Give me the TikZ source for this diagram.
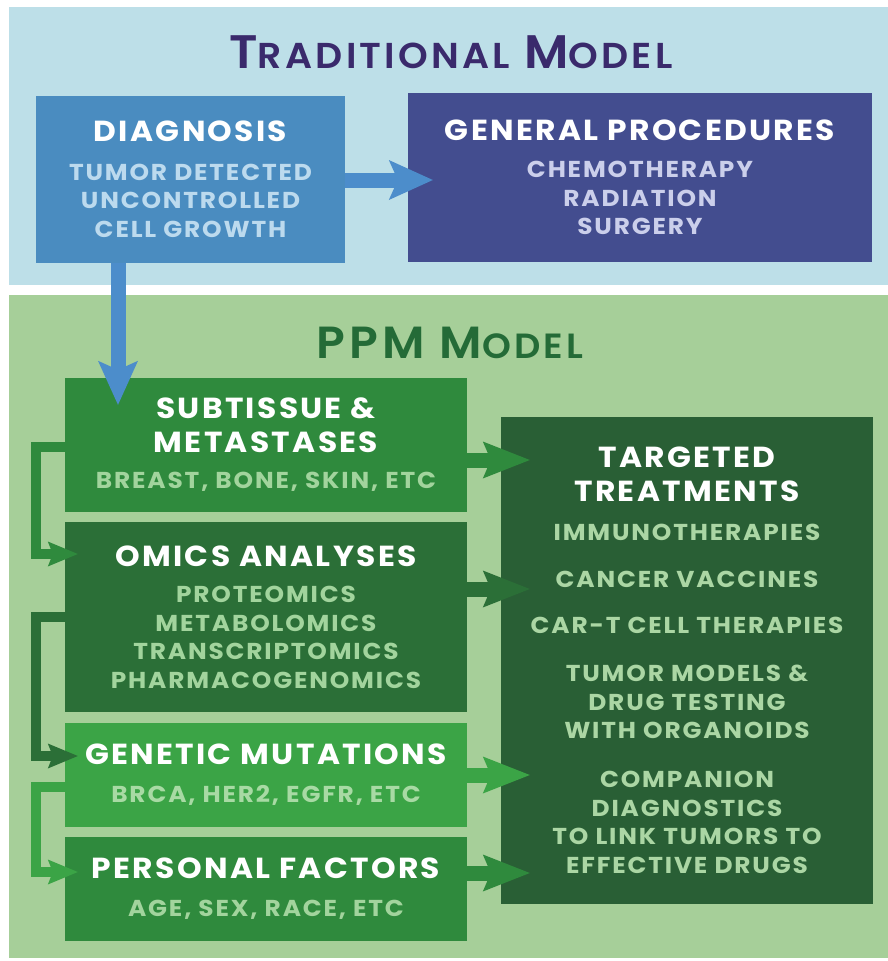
\documentclass[tikz,border=0pt]{standalone}
\usepackage{fontspec}
\setmainfont{Poppins}[LetterSpace=8, FakeStretch=1.08]
\newfontfamily\ttlfont{Poppins}[UprightFont=* SemiBold, LetterSpace=9, FakeStretch=1.05]
\usetikzlibrary{arrows.meta}
\definecolor{bgblue}{HTML}{BDDFE8}
\definecolor{bggreen}{HTML}{A6CF99}
\definecolor{ttlpurple}{HTML}{3A2A6C}
\definecolor{ttlgreen}{HTML}{246B37}
\definecolor{cdiag}{HTML}{4A8CC0}
\definecolor{tdiag}{HTML}{BCDAEE}
\definecolor{cgen}{HTML}{434D8F}
\definecolor{tgen}{HTML}{CBCFEB}
\definecolor{cblue}{HTML}{4C8DCB}
\definecolor{csub}{HTML}{2F8A3D}
\definecolor{comics}{HTML}{2B6F37}
\definecolor{cgene}{HTML}{3BA446}
\definecolor{ctarg}{HTML}{295F35}
\definecolor{tgreen}{HTML}{A2D49D}
\definecolor{tgene}{HTML}{A8DAA4}
\definecolor{ttarg}{HTML}{ABD6A4}
\newcommand\myhdfont{\fontsize{29}{28.5}\selectfont\bfseries}
\newcommand\mysbfont{\fontsize{23}{28.5}\selectfont\bfseries}
\newcommand\myhd{\myhdfont\color{white}}
\tikzset{
  box/.style={rectangle, inner sep=0pt, align=center, font=\mysbfont},
  barrow/.style={draw=cblue, line width=15pt,
    -{Stealth[length=44pt,width=40pt,inset=9pt,line width=0pt]}},
  rarrow/.style={line width=15pt,
    -{Stealth[length=47pt,width=37pt,inset=8pt,line width=0pt]}, shorten >=-29pt},
  lconn/.style={line width=10pt, line join=miter,
    -{Stealth[length=30pt,width=25pt,inset=5pt,line width=0pt]}, shorten >=-13pt},
}
\begin{document}
\begin{tikzpicture}[x=1pt,y=-1pt]
\useasboundingbox (0,0) rectangle (888,961);
\fill[white] (0,0) rectangle (888,961);
\fill[bgblue] (9,7) rectangle (888,285);
\fill[bggreen] (9,295) rectangle (888,958);

\node[text=ttlpurple, font=\ttlfont, anchor=base] (trad) at (451,68)
  {{\fontsize{47}{47}\selectfont T}{\fontsize{36}{36}\selectfont RADITIONAL}\kern14pt{\fontsize{47}{47}\selectfont M}{\fontsize{36}{36}\selectfont ODEL}};
\node[text=ttlgreen, font=\ttlfont, anchor=base] (ppm) at (450,358)
  {{\fontsize{45}{45}\selectfont PPM\kern15pt M}{\fontsize{35}{35}\selectfont ODEL}};

\node[box, fill=cdiag, text=tdiag, minimum width=309pt, minimum height=167pt] (diag) at (190.5,179.5)
  {{\myhd DIAGNOSIS}\\[10pt]TUMOR DETECTED\\UNCONTROLLED\\CELL GROWTH};
\node[box, fill=cgen, text=tgen, minimum width=464pt, minimum height=169pt] (gen) at (640,177.5)
  {{\myhd GENERAL PROCEDURES}\\[9pt]CHEMOTHERAPY\\RADIATION\\SURGERY};

\node[box, fill=csub, text=tgreen, minimum width=402pt, minimum height=134pt] (sub) at (266,445)
  {{\myhd SUBTISSUE \&}\\[5.5pt]{\myhd METASTASES}\\[7.5pt]BREAST, BONE, SKIN, ETC};
\node[box, fill=comics, text=tgreen, minimum width=402pt, minimum height=190pt] (omics) at (266,617)
  {{\myhd OMICS ANALYSES}\\[7.5pt]PROTEOMICS\\METABOLOMICS\\TRANSCRIPTOMICS\\PHARMACOGENOMICS};
\node[box, fill=cgene, text=tgene, minimum width=402pt, minimum height=104pt] (gene) at (266,775)
  {{\myhd GENETIC MUTATIONS}\\[9.5pt]BRCA, HER2, EGFR, ETC};
\node[box, fill=csub, text=tgreen, minimum width=402pt, minimum height=104pt] (pers) at (266,889)
  {{\myhd PERSONAL FACTORS}\\[9.5pt]AGE, SEX, RACE, ETC};
\node[box, fill=ctarg, text=ttarg, minimum width=372pt, minimum height=487pt] (targ) at (687,660.5)
  {{\myhd TARGETED}\\[5.5pt]{\myhd TREATMENTS}\\[10.5pt]IMMUNOTHERAPIES\\[18.5pt]CANCER VACCINES\\[17.5pt]CAR-T CELL THERAPIES\\[19.5pt]TUMOR MODELS \&\\DRUG TESTING\\WITH ORGANOIDS\\[20.5pt]COMPANION\\DIAGNOSTICS\\TO LINK TUMORS TO\\EFFECTIVE DRUGS};

% traditional arrows
\draw[barrow, shorten >=-25pt] ([yshift=-0.5pt]diag.east) -- ([yshift=-0.5pt]diag.east -| gen.west);
\draw[barrow, shorten >=-27pt] ([xshift=-72.5pt]diag.south) -- ([xshift=-72.5pt]diag.south |- sub.north);

% left connectors
\draw[lconn, draw=csub] ([yshift=-2pt]sub.west) -- ++(-29,0) |- ([yshift=63pt]omics.west);
\draw[lconn, draw=comics] (omics.west) -- ++(-29,0) |- ([yshift=19pt]gene.west);
\draw[lconn, draw=cgene] ([yshift=-12pt]gene.west) -- ++(-29,0) |- ([yshift=17pt]pers.west);

% right arrows
\draw[rarrow, draw=csub] ([yshift=-15pt]sub.east) -- ([yshift=-15pt]sub.east -| targ.west);
\draw[rarrow, draw=comics] ([yshift=28pt]omics.east) -- ([yshift=28pt]omics.east -| targ.west);
\draw[rarrow, draw=cgene] (gene.east) -- (gene.east -| targ.west);
\draw[rarrow, draw=csub] ([yshift=16pt]pers.east) -- ([yshift=16pt]pers.east -| targ.west);
\end{tikzpicture}
\end{document}
